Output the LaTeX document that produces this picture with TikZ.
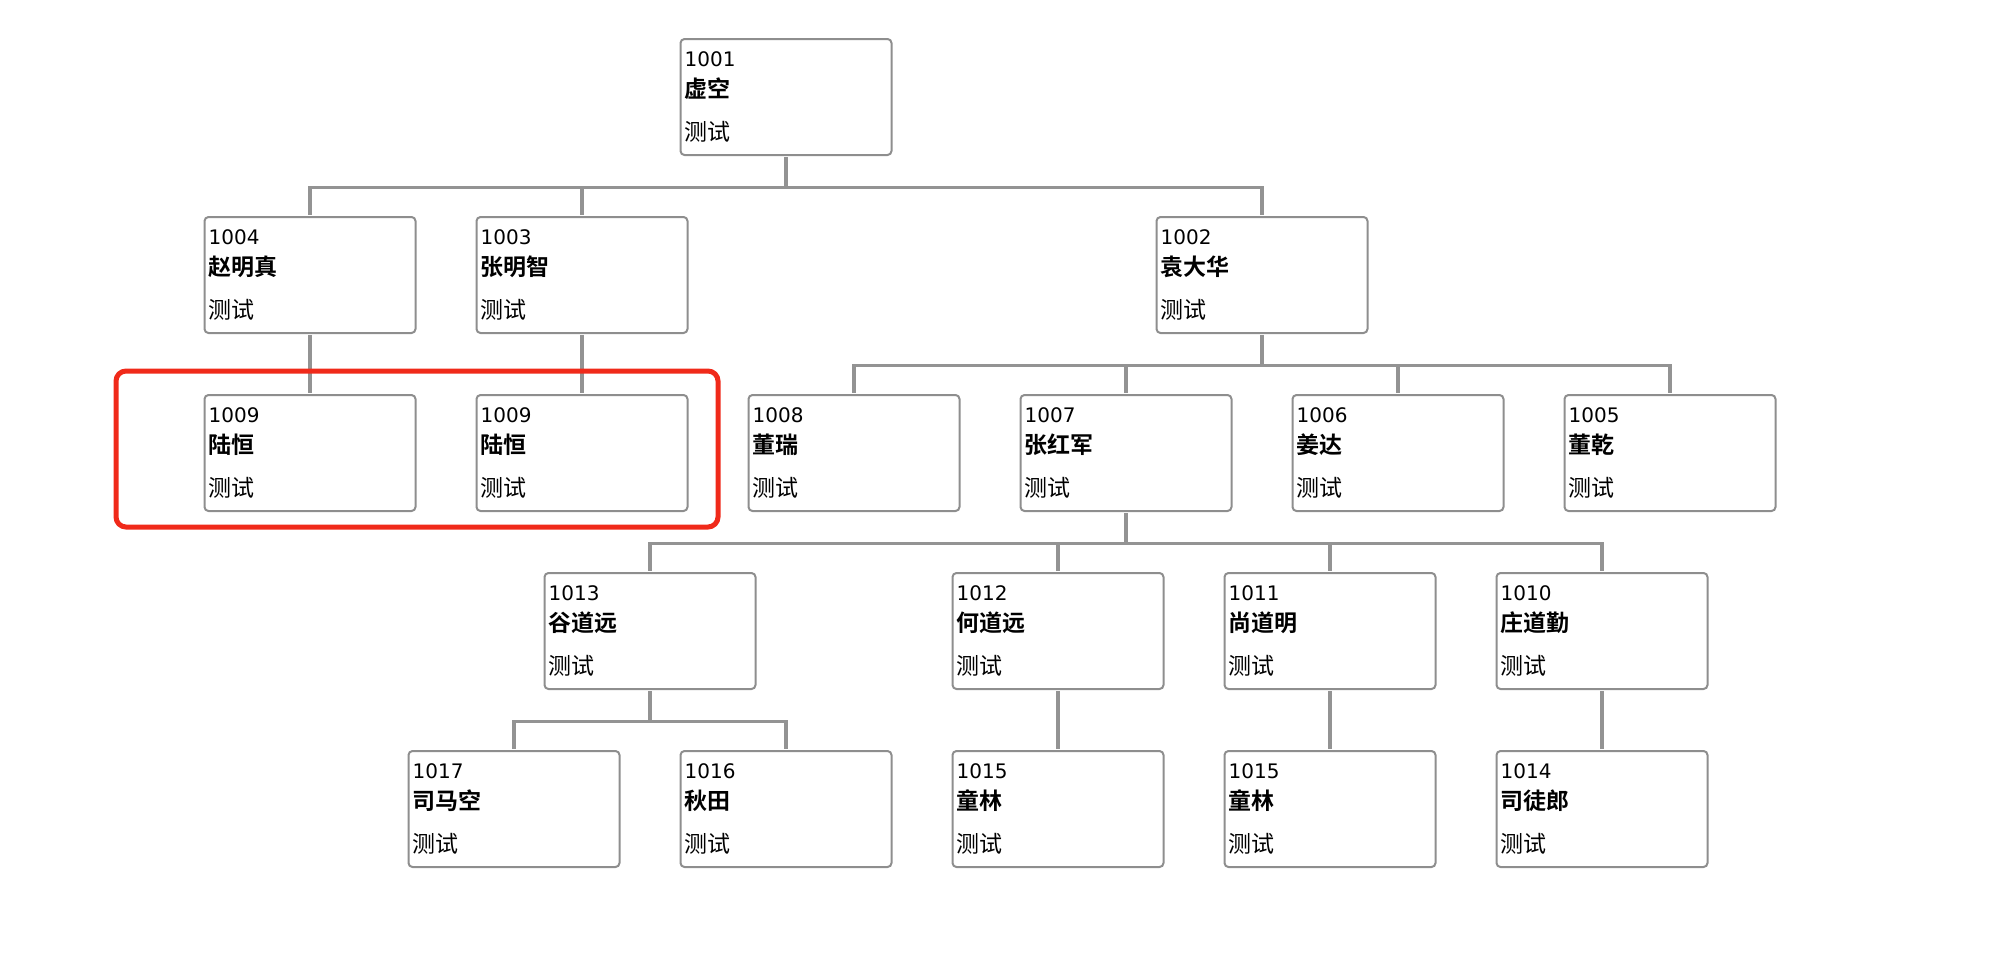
\documentclass[tikz,border=0pt]{standalone}
\usepackage{fontspec}
\setmainfont{DejaVu Sans}
\newfontfamily\cjk{Noto Sans CJK SC}[BoldFont={Noto Sans CJK SC Bold}]
\definecolor{boxgray}{HTML}{8E8E8E}
\definecolor{linegray}{HTML}{939393}
\definecolor{hlred}{HTML}{F02A1A}
\tikzset{
  person/.style={draw=boxgray, line width=2pt, rounded corners=4pt, fill=white,
    minimum width=211pt, minimum height=116pt, inner sep=0pt},
  idtext/.style={anchor=base west, inner sep=0pt, font=\fontsize{20}{22}\selectfont},
  nametext/.style={anchor=base west, inner sep=0pt, font=\cjk\bfseries\fontsize{23}{25}\selectfont},
  notetext/.style={anchor=base west, inner sep=0pt, font=\cjk\fontsize{23}{25}\selectfont},
  conn/.style={draw=linegray, line width=3.5pt},
  highlight/.style={draw=hlred, line width=5pt, rounded corners=10pt}
}
% \pnode{name}{cx}{top}{id}{cjk name}
\newcommand{\pnode}[5]{%
  \node[person] (#1) at (#2,#3+58) {};
  \node[idtext] (#1id) at ([xshift=5pt,yshift=-28pt]#1.north west) {#4};
  \node[nametext] (#1nm) at ([xshift=5pt,yshift=-59pt]#1.north west) {#5};
  \node[notetext] (#1nt) at ([xshift=5pt,yshift=-102pt]#1.north west) {测试};
}
\begin{document}
\begin{tikzpicture}[x=1pt,y=-1pt]
\useasboundingbox (0,0) rectangle (1992,956);
\pnode{a}{786}{39}{1001}{虚空}
\pnode{b4}{310}{217}{1004}{赵明真}
\pnode{b3}{582}{217}{1003}{张明智}
\pnode{b2}{1262}{217}{1002}{袁大华}
\pnode{c9a}{310}{395}{1009}{陆恒}
\pnode{c9b}{582}{395}{1009}{陆恒}
\pnode{c8}{854}{395}{1008}{董瑞}
\pnode{c7}{1126}{395}{1007}{张红军}
\pnode{c6}{1398}{395}{1006}{姜达}
\pnode{c5}{1670}{395}{1005}{董乾}
\pnode{d13}{650}{573}{1013}{谷道远}
\pnode{d12}{1058}{573}{1012}{何道远}
\pnode{d11}{1330}{573}{1011}{尚道明}
\pnode{d10}{1602}{573}{1010}{庄道勤}
\pnode{e17}{514}{751}{1017}{司马空}
\pnode{e16}{786}{751}{1016}{秋田}
\pnode{e15a}{1058}{751}{1015}{童林}
\pnode{e15b}{1330}{751}{1015}{童林}
\pnode{e14}{1602}{751}{1014}{司徒郎}
\foreach \p/\c in {a/b4,a/b3,a/b2,b4/c9a,b3/c9b,b2/c8,b2/c7,b2/c6,b2/c5,
  c7/d13,c7/d12,c7/d11,c7/d10,d13/e17,d13/e16,d12/e15a,d11/e15b,d10/e14}{
  \draw[conn] ([yshift=-1pt]\p.south) -- ++(0,30.5) -| ([yshift=1pt]\c.north);
}
% red highlight on top
\draw[highlight] (116,371) rectangle (718,527);
\end{tikzpicture}
\end{document}
